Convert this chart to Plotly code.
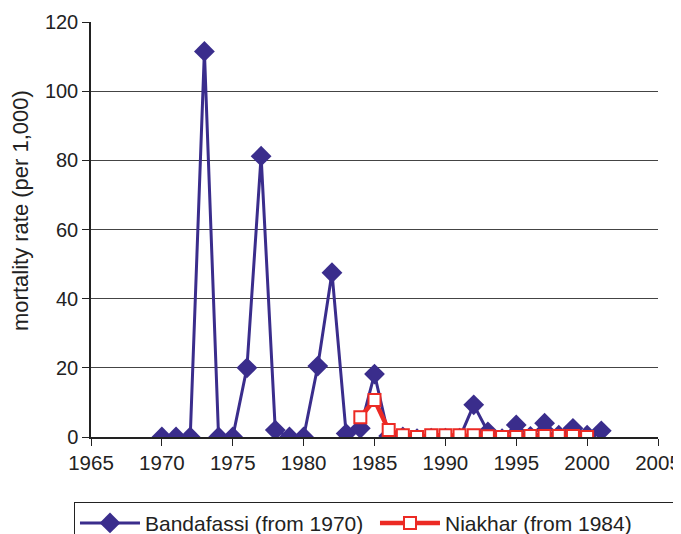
import plotly.graph_objects as go

band_years = list(range(1970, 2002))
band_vals = [0, 0, 0, 111.5, 0, 0, 20, 81.2, 2, 0, 0, 20.5, 47.5, 1, 2.5, 18.2,
             0.3, 0, -0.5, -0.3, -0.3, -0.3, 9.3, 1.5, -0.5, 3.5, 0.2, 4, 0.5, 2.5, 0.5, 1.8]
niak_years = list(range(1984, 2001))
niak_vals = [5.7, 10.7, 2, 0.5, 0, 0.5, 0.5, 0.5, 0.5, 0.2, 0, 0, 0.3, 0.3, 0.3, 0.3, 0]

y_title = "mortality rate (per 1,000)"

blue = "#3a2d8c"
red = "#ec2a24"

fig = go.Figure()
fig.add_trace(go.Scatter(x=band_years, y=band_vals, mode="lines+markers",
                         name="Bandafassi (from 1970)",
                         line=dict(color=blue, width=3),
                         marker=dict(symbol="diamond", size=16, color=blue)))
fig.add_trace(go.Scatter(x=niak_years, y=niak_vals, mode="lines+markers",
                         name="Niakhar (from 1984)",
                         line=dict(color=red, width=4.5),
                         marker=dict(symbol="square", size=12, color="white",
                                     line=dict(color=red, width=2))))

font = "Liberation Sans, Arial, sans-serif"
fig.update_layout(
    width=681, height=534,
    margin=dict(l=83, r=31, t=14, b=105, autoexpand=False),
    plot_bgcolor="white", paper_bgcolor="white",
    font=dict(family=font, size=20, color="#222"),
    showlegend=True,
    legend=dict(orientation="h", x=-0.030, xanchor="left", y=-0.156, yanchor="top",
                bordercolor="#222", borderwidth=1, font=dict(size=21),
                entrywidth=225, entrywidthmode="pixels", traceorder="normal",
                itemwidth=60),
    xaxis=dict(range=[1965, 2005], tickmode="linear", tick0=1965, dtick=5,
               showgrid=False, zeroline=False, showline=True, linecolor="#222",
               linewidth=1.5, ticks="outside", ticklen=7, tickcolor="#222",
               tickfont=dict(size=20.5), ticklabeloverflow="allow"),
    yaxis=dict(range=[0, 120], tickmode="linear", tick0=0, dtick=20,
               showgrid=True, gridcolor="#444", gridwidth=1, zeroline=False,
               showline=True, linecolor="#222", linewidth=1.5, ticks="outside",
               ticklen=7, tickcolor="#222", tickfont=dict(size=20)),
    annotations=[dict(text=y_title, xref="paper", yref="paper",
                      x=-0.1235, y=0.547, xanchor="center", yanchor="middle",
                      textangle=-90, showarrow=False, font=dict(size=22))],
)
fig.write_html("out.html")
